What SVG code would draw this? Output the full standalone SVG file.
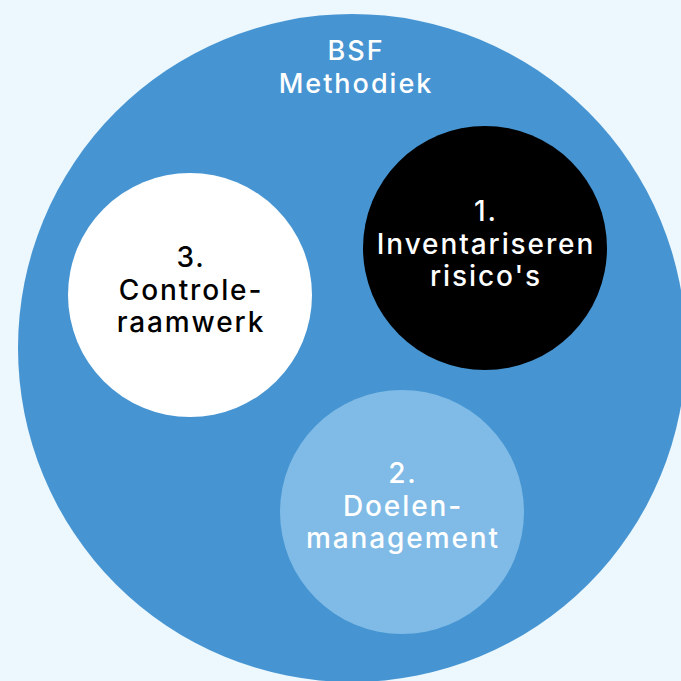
<svg xmlns="http://www.w3.org/2000/svg" width="681" height="681" viewBox="0 0 681 681">
<style>
.t{font-family:Inter,"Liberation Sans",sans-serif;font-size:28px;font-weight:500;letter-spacing:1.9px;text-anchor:middle}
.h{font-size:27px;font-weight:500;letter-spacing:2px}
</style>
<rect width="681" height="681" fill="#ecf7fe"/>
<g id="bsf">
<circle cx="352" cy="348" r="334" fill="#4695d2"/>
<text class="t h" fill="#ffffff" x="356" y="60">BSF</text>
<text class="t h" fill="#ffffff" x="356" y="93">Methodiek</text>
</g>
<g id="node1">
<circle cx="485" cy="248" r="122" fill="#000000"/>
<text class="t" fill="#ffffff"><tspan x="486" y="221">1.</tspan><tspan x="486" y="254">Inventariseren</tspan><tspan x="486" y="286">risico's</tspan></text>
</g>
<g id="node2">
<circle cx="402" cy="512" r="122" fill="#7fbbe6"/>
<text class="t" fill="#ffffff"><tspan x="403" y="483">2.</tspan><tspan x="403" y="516">Doelen-</tspan><tspan x="403" y="548">management</tspan></text>
</g>
<g id="node3">
<circle cx="190" cy="295" r="122" fill="#ffffff"/>
<text class="t" fill="#000000"><tspan x="191" y="267">3.</tspan><tspan x="191" y="300">Controle-</tspan><tspan x="191" y="332">raamwerk</tspan></text>
</g>
<g id="connectors"></g>
</svg>
